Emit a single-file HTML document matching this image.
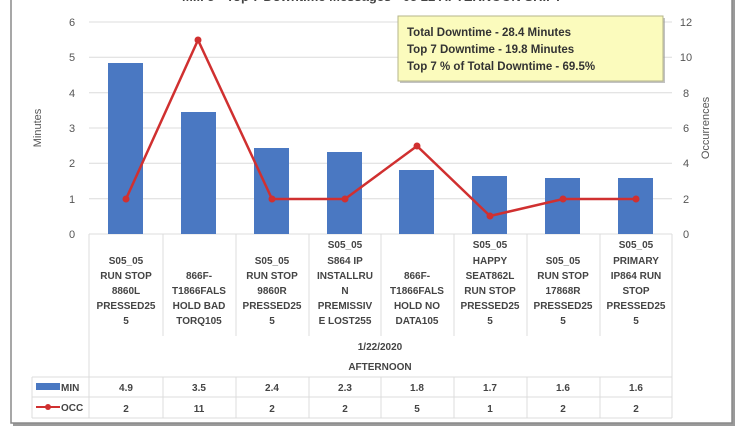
<!DOCTYPE html>
<html><head><meta charset="utf-8"><style>
html,body{margin:0;padding:0;background:#fff;}
svg{display:block;font-family:"Liberation Sans",sans-serif;}
</style></head><body>
<svg width="741" height="430" viewBox="0 0 741 430" xmlns="http://www.w3.org/2000/svg">
<rect x="0" y="0" width="741" height="430" fill="#fff"/>
<rect x="13" y="-5" width="722" height="431" fill="#9a9a9a"/>
<rect x="11" y="-8" width="721" height="431" fill="#fff" stroke="#8a8a8a" stroke-width="1.5"/>
<text x="372" y="1" text-anchor="middle" font-size="13" font-weight="bold" fill="#444">Mill 5 - Top 7 Downtime Messages - 05 22 AFTERNOON SHIFT</text>
<g stroke="#dcdcdc" stroke-width="1">
<line x1="89" y1="22" x2="672" y2="22"/>
<line x1="89" y1="57.3" x2="672" y2="57.3"/>
<line x1="89" y1="92.7" x2="672" y2="92.7"/>
<line x1="89" y1="128" x2="672" y2="128"/>
<line x1="89" y1="163.3" x2="672" y2="163.3"/>
<line x1="89" y1="198.7" x2="672" y2="198.7"/>
<line x1="89" y1="234" x2="672" y2="234"/>
</g>
<g font-size="11" fill="#555" text-anchor="middle">
<text x="72" y="26">6</text><text x="72" y="61">5</text><text x="72" y="97">4</text><text x="72" y="132">3</text><text x="72" y="167">2</text><text x="72" y="203">1</text><text x="72" y="238">0</text>
<text x="686" y="26">12</text><text x="686" y="61">10</text><text x="686" y="97">8</text><text x="686" y="132">6</text><text x="686" y="167">4</text><text x="686" y="203">2</text><text x="686" y="238">0</text>
</g>
<text transform="translate(41,128) rotate(-90)" text-anchor="middle" font-size="11" fill="#555">Minutes</text>
<text transform="translate(709,128) rotate(-90)" text-anchor="middle" font-size="11" fill="#555">Occurrences</text>
<g fill="#4a78c2">
<rect x="108" y="63" width="35" height="171"/>
<rect x="181" y="112" width="35" height="122"/>
<rect x="254" y="148" width="35" height="86"/>
<rect x="327" y="152" width="35" height="82"/>
<rect x="399" y="170" width="35" height="64"/>
<rect x="472" y="176" width="35" height="58"/>
<rect x="545" y="178" width="35" height="56"/>
<rect x="618" y="178" width="35" height="56"/>
</g>
<polyline points="126,199 198,40 272,199 345,199 417,146 490,216 563,199 636,199" fill="none" stroke="#d03030" stroke-width="2.5"/>
<g fill="#d03030">
<circle cx="126" cy="199" r="3.5"/><circle cx="198" cy="40" r="3.5"/><circle cx="272" cy="199" r="3.5"/><circle cx="345" cy="199" r="3.5"/><circle cx="417" cy="146" r="3.5"/><circle cx="490" cy="216" r="3.5"/><circle cx="563" cy="199" r="3.5"/><circle cx="636" cy="199" r="3.5"/>
</g>
<rect x="400" y="18" width="265" height="65" fill="#999" opacity="0.6"/>
<rect x="398" y="16" width="265" height="65" fill="#fbfbbd" stroke="#b5b58a" stroke-width="1"/>
<g font-size="11.5" fill="#333" font-weight="bold"><text x="407" y="36">Total Downtime - 28.4 Minutes</text><text x="407" y="53">Top 7 Downtime - 19.8 Minutes</text><text x="407" y="70">Top 7 % of Total Downtime - 69.5%</text></g>
<g stroke="#dcdcdc" stroke-width="1" fill="none">
<line x1="89" y1="234" x2="89" y2="418"/>
<line x1="163" y1="234" x2="163" y2="336"/><line x1="236" y1="234" x2="236" y2="336"/><line x1="309" y1="234" x2="309" y2="336"/><line x1="381" y1="234" x2="381" y2="336"/><line x1="454" y1="234" x2="454" y2="336"/><line x1="527" y1="234" x2="527" y2="336"/><line x1="600" y1="234" x2="600" y2="336"/>
<line x1="672" y1="234" x2="672" y2="418"/>
<line x1="32" y1="377" x2="672" y2="377"/><line x1="32" y1="397" x2="672" y2="397"/><line x1="32" y1="418" x2="672" y2="418"/>
<line x1="32" y1="377" x2="32" y2="418"/>
<line x1="163" y1="377" x2="163" y2="418"/><line x1="236" y1="377" x2="236" y2="418"/><line x1="309" y1="377" x2="309" y2="418"/><line x1="381" y1="377" x2="381" y2="418"/><line x1="454" y1="377" x2="454" y2="418"/><line x1="527" y1="377" x2="527" y2="418"/><line x1="600" y1="377" x2="600" y2="418"/>
</g>
<g font-size="10" fill="#444" text-anchor="middle" font-weight="bold">
<text x="126" y="264">S05_05</text><text x="126" y="279">RUN STOP</text><text x="126" y="294">8860L</text><text x="126" y="309">PRESSED25</text><text x="126" y="324">5</text>
<text x="199" y="279">866F-</text><text x="199" y="294">T1866FALS</text><text x="199" y="309">HOLD BAD</text><text x="199" y="324">TORQ105</text>
<text x="272" y="264">S05_05</text><text x="272" y="279">RUN STOP</text><text x="272" y="294">9860R</text><text x="272" y="309">PRESSED25</text><text x="272" y="324">5</text>
<text x="345" y="248">S05_05</text><text x="345" y="264">S864 IP</text><text x="345" y="279">INSTALLRU</text><text x="345" y="294">N</text><text x="345" y="309">PREMISSIV</text><text x="345" y="324">E LOST255</text>
<text x="417" y="279">866F-</text><text x="417" y="294">T1866FALS</text><text x="417" y="309">HOLD NO</text><text x="417" y="324">DATA105</text>
<text x="490" y="248">S05_05</text><text x="490" y="264">HAPPY</text><text x="490" y="279">SEAT862L</text><text x="490" y="294">RUN STOP</text><text x="490" y="309">PRESSED25</text><text x="490" y="324">5</text>
<text x="563" y="264">S05_05</text><text x="563" y="279">RUN STOP</text><text x="563" y="294">17868R</text><text x="563" y="309">PRESSED25</text><text x="563" y="324">5</text>
<text x="636" y="248">S05_05</text><text x="636" y="264">PRIMARY</text><text x="636" y="279">IP864 RUN</text><text x="636" y="294">STOP</text><text x="636" y="309">PRESSED25</text><text x="636" y="324">5</text>
<text x="380" y="350">1/22/2020</text>
<text x="380" y="370">AFTERNOON</text>
<text x="126" y="391">4.9</text><text x="199" y="391">3.5</text><text x="272" y="391">2.4</text><text x="345" y="391">2.3</text><text x="417" y="391">1.8</text><text x="490" y="391">1.7</text><text x="563" y="391">1.6</text><text x="636" y="391">1.6</text>
<text x="126" y="412">2</text><text x="199" y="412">11</text><text x="272" y="412">2</text><text x="345" y="412">2</text><text x="417" y="412">5</text><text x="490" y="412">1</text><text x="563" y="412">2</text><text x="636" y="412">2</text>
</g>
<rect x="36" y="383" width="24" height="7" fill="#4a78c2"/>
<text x="61" y="391" font-size="10" fill="#444" font-weight="bold">MIN</text>
<line x1="36" y1="407" x2="60" y2="407" stroke="#d03030" stroke-width="2"/>
<circle cx="48" cy="407" r="3" fill="#d03030"/>
<text x="61" y="411" font-size="10" fill="#444" font-weight="bold">OCC</text>
</svg>
</body></html>
